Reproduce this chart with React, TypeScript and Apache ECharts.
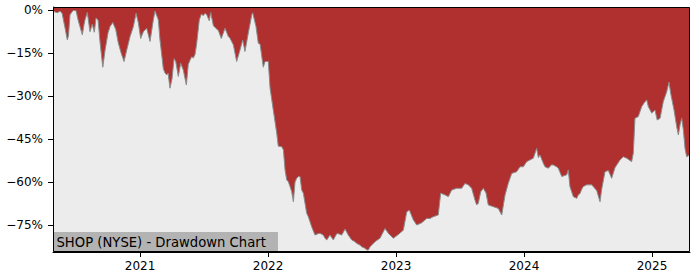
import React, { useEffect, useRef } from "react";
import * as echarts from "echarts";

// Dates as decimal years, drawdown in percent
const dates: number[] = [
  2020.320, 2020.328, 2020.352, 2020.375, 2020.391, 2020.414, 2020.432, 2020.441, 2020.453, 2020.477,
  2020.500, 2020.516, 2020.549, 2020.563, 2020.570, 2020.588, 2020.609, 2020.627, 2020.643, 2020.656,
  2020.672, 2020.688, 2020.709, 2020.727, 2020.750, 2020.766, 2020.787, 2020.810, 2020.830, 2020.852,
  2020.875, 2020.896, 2020.922, 2020.948, 2020.969, 2020.987, 2021.005, 2021.026, 2021.052, 2021.078,
  2021.104, 2021.117, 2021.143, 2021.156, 2021.182, 2021.195, 2021.209, 2021.219, 2021.234, 2021.250,
  2021.266, 2021.279, 2021.299, 2021.318, 2021.338, 2021.362, 2021.377, 2021.391, 2021.404, 2021.416,
  2021.430, 2021.443, 2021.463, 2021.479, 2021.495, 2021.508, 2021.521, 2021.541, 2021.552, 2021.573,
  2021.594, 2021.612, 2021.635, 2021.664, 2021.690, 2021.703, 2021.729, 2021.755, 2021.781, 2021.802,
  2021.820, 2021.846, 2021.873, 2021.880, 2021.906, 2021.924, 2021.938, 2021.963, 2021.977, 2022.002,
  2022.016, 2022.041, 2022.068, 2022.080, 2022.107, 2022.120, 2022.133, 2022.146, 2022.159, 2022.172,
  2022.185, 2022.198, 2022.211, 2022.224, 2022.237, 2022.250, 2022.263, 2022.276, 2022.302, 2022.315,
  2022.341, 2022.367, 2022.391, 2022.406, 2022.432, 2022.445, 2022.459, 2022.484, 2022.510, 2022.537,
  2022.549, 2022.576, 2022.602, 2022.627, 2022.654, 2022.680, 2022.693, 2022.719, 2022.732, 2022.758,
  2022.771, 2022.784, 2022.797, 2022.810, 2022.836, 2022.875, 2022.914, 2022.940, 2022.979, 2023.018,
  2023.057, 2023.084, 2023.104, 2023.135, 2023.162, 2023.201, 2023.240, 2023.266, 2023.291, 2023.330,
  2023.349, 2023.383, 2023.409, 2023.435, 2023.474, 2023.513, 2023.539, 2023.565, 2023.591, 2023.617,
  2023.630, 2023.643, 2023.662, 2023.682, 2023.703, 2023.721, 2023.760, 2023.799, 2023.826, 2023.852,
  2023.877, 2023.904, 2023.943, 2023.969, 2023.995, 2024.021, 2024.047, 2024.073, 2024.099, 2024.112,
  2024.125, 2024.151, 2024.164, 2024.190, 2024.216, 2024.229, 2024.255, 2024.268, 2024.295, 2024.334,
  2024.346, 2024.359, 2024.385, 2024.412, 2024.424, 2024.438, 2024.451, 2024.463, 2024.490, 2024.529,
  2024.568, 2024.594, 2024.607, 2024.633, 2024.659, 2024.685, 2024.711, 2024.750, 2024.776, 2024.802,
  2024.841, 2024.854, 2024.867, 2024.893, 2024.920, 2024.945, 2024.959, 2024.971, 2024.998, 2025.023,
  2025.041, 2025.063, 2025.088, 2025.115, 2025.133, 2025.146, 2025.172, 2025.193, 2025.206, 2025.219,
  2025.232, 2025.245, 2025.258, 2025.271, 2025.293,
];

const drawdown: number[] = [
  -0.5, -0.6, -1.0, -0.5, -1.2, -6.3, -10.5, -9.0, -1.7, -0.2,
  -0.3, -3.5, -8.7, -5.0, -3.5, -0.9, -7.6, -5.0, -7.8, -2.8,
  -3.5, -11.5, -20.0, -14.0, -8.0, -5.8, -4.4, -6.8, -11.5, -15.0,
  -18.0, -14.0, -9.3, -5.8, -1.2, -4.5, -10.0, -7.6, -6.4, -11.0,
  -3.5, -0.4, -3.5, -10.5, -20.5, -22.0, -22.7, -22.0, -27.3, -24.0,
  -17.0, -18.0, -23.2, -18.6, -21.0, -26.2, -19.0, -17.5, -16.3, -16.8,
  -15.5, -11.6, -3.5, -1.5, -2.0, -1.2, -1.7, -3.8, -0.9, -5.5,
  -6.5, -7.2, -10.0, -6.4, -9.3, -9.9, -12.2, -18.0, -14.0, -10.5,
  -14.5, -8.1, -1.7, -1.0, -5.8, -11.6, -12.0, -20.0, -18.0, -18.0,
  -27.3, -34.9, -43.0, -47.5, -47.7, -48.8, -55.8, -59.3, -59.9, -61.6,
  -63.4, -66.9, -60.0, -58.7, -58.1, -58.1, -62.8, -63.9, -70.9, -72.1,
  -75.6, -78.5, -78.0, -77.9, -78.5, -79.6, -80.2, -78.5, -80.2, -78.0,
  -78.0, -78.5, -76.4, -78.5, -80.2, -80.8, -81.4, -82.0, -82.6, -83.1,
  -83.7, -83.7, -82.6, -82.0, -80.8, -79.6, -76.2, -77.9, -79.6, -78.3,
  -76.8, -70.4, -69.8, -73.2, -75.0, -74.2, -72.7, -72.7, -72.1, -71.5,
  -63.9, -64.5, -65.1, -62.8, -62.2, -62.2, -60.5, -61.0, -62.2, -66.3,
  -68.0, -67.4, -63.4, -62.2, -63.8, -68.0, -68.6, -69.2, -71.5, -64.5,
  -60.5, -57.0, -56.4, -54.7, -54.7, -52.9, -52.3, -51.7, -48.3, -51.5,
  -50.6, -53.5, -54.7, -55.2, -54.0, -54.1, -54.7, -55.2, -58.1, -57.5,
  -55.8, -61.6, -65.1, -65.7, -64.5, -64.0, -62.5, -61.6, -61.0, -61.0,
  -63.0, -66.9, -62.5, -56.4, -56.0, -58.7, -55.0, -52.3, -51.2, -51.7,
  -52.9, -50.0, -37.8, -37.2, -33.7, -32.0, -31.4, -33.7, -36.0, -34.9,
  -38.4, -37.8, -32.0, -28.5, -25.2, -29.1, -34.9, -40.7, -43.6, -40.1,
  -37.8, -41.9, -48.3, -51.2, -50.6,
];

const yearTicks: number[] = [2021, 2022, 2023, 2024, 2025];
const pctTicks: number[] = [0, -15, -30, -45, -60, -75];
const chartTitle = "SHOP (NYSE) - Drawdown Chart";

const FONT = "'DejaVu Sans'";

export default function App() {
  const ref = useRef<HTMLDivElement>(null);

  useEffect(() => {
    if (!ref.current) return;
    const chart = echarts.init(ref.current, undefined, { renderer: "svg" });
    const data = dates.map((d, i) => [d, drawdown[i]]);
    const gridLeft = 53;
    const gridTop = 7;
    const gridRight = 10;
    const gridBottom = 28;
    const gw = 700 - gridLeft - gridRight;
    const gh = 280 - gridTop - gridBottom;

    chart.setOption({
      animation: false,
      grid: {
        left: gridLeft,
        top: gridTop,
        right: gridRight,
        bottom: gridBottom,
        show: true,
        backgroundColor: "#ececec",
        borderWidth: 0,
      },
      xAxis: {
        type: "value",
        min: 2020.32,
        max: 2025.297,
        splitLine: { show: false },
        axisLine: { show: true, onZero: false, lineStyle: { color: "#000", width: 1 } },
        axisTick: {
          show: true,
          length: 5,
          customValues: yearTicks,
          lineStyle: { color: "#000", width: 1 },
        },
        axisLabel: {
          customValues: yearTicks,
          formatter: (v: number) => String(Math.round(v)),
          color: "#000",
          fontFamily: FONT,
          fontSize: 12,
          margin: 8,
        },
      },
      yAxis: {
        type: "value",
        min: -84.4,
        max: 1.0,
        splitLine: { show: false },
        axisLine: { show: true, onZero: false, lineStyle: { color: "#000", width: 1 } },
        axisTick: {
          show: true,
          length: 5,
          customValues: pctTicks,
          lineStyle: { color: "#000", width: 1 },
        },
        axisLabel: {
          customValues: pctTicks,
          formatter: (v: number) =>
            v < 0 ? "\u2212" + Math.abs(Math.round(v)) + "%" : Math.round(v) + "%",
          color: "#000",
          fontFamily: FONT,
          fontSize: 12,
          margin: 10,
        },
      },
      series: [
        {
          type: "line",
          data,
          showSymbol: false,
          symbol: "none",
          lineStyle: { color: "#8c8c8c", width: 1 },
          areaStyle: { color: "#b03030", origin: "end", opacity: 1 },
          z: 2,
        },
      ],
      graphic: [
        {
          type: "rect",
          z: 50,
          shape: { x: gridLeft, y: 232, width: 225, height: 20 },
          style: { fill: "#b3b3b3" },
        },
        {
          type: "text",
          z: 51,
          x: gridLeft + 3.5,
          y: 242,
          style: {
            text: chartTitle,
            font: `13.2px ${FONT}`,
            fill: "#000",
            verticalAlign: "middle",
            align: "left",
          },
        },
        {
          type: "rect",
          z: 60,
          shape: { x: gridLeft + 0.5, y: gridTop + 0.5, width: gw - 1, height: gh - 1 },
          style: { fill: "none", stroke: "#000", lineWidth: 1 },
          silent: true,
        },
      ],
    });
    return () => chart.dispose();
  }, []);

  return (
    <div
      ref={ref}
      style={{ position: "fixed", left: 0, top: 0, width: 700, height: 280, background: "#fff" }}
    />
  );
}
